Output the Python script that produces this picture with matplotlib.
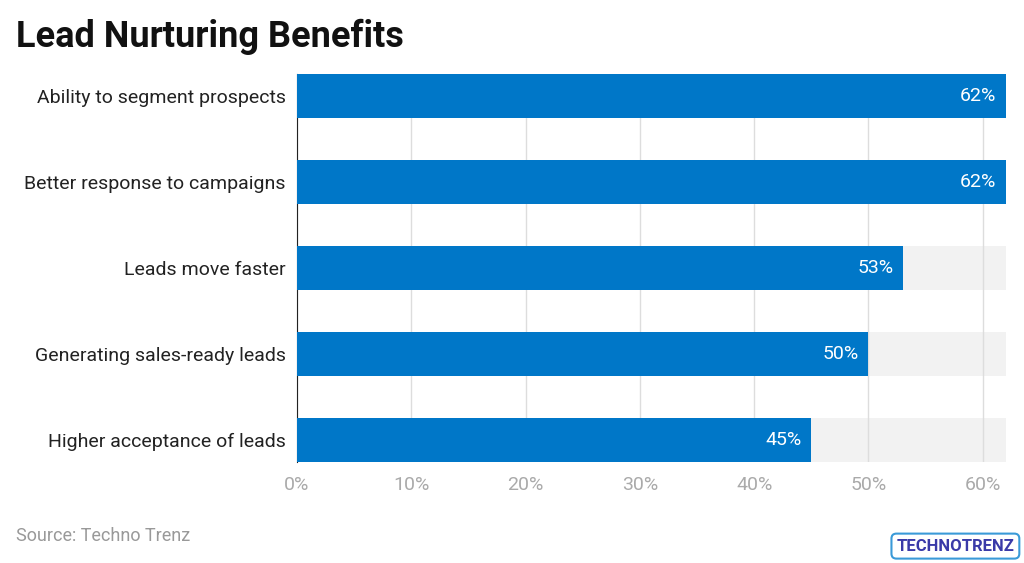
import matplotlib
matplotlib.use("Agg")
import matplotlib.pyplot as plt

categories = ["Ability to segment prospects", "Better response to campaigns",
              "Leads move faster", "Generating sales-ready leads", "Higher acceptance of leads"]
values = [62, 62, 53, 50, 45]
ticks = [0, 10, 20, 30, 40, 50, 60]

plt.rcParams['font.family'] = ['Roboto', 'DejaVu Sans']
fig = plt.figure(figsize=(10.24, 5.63), dpi=100)
ax = fig.add_axes([0.290, 0.179, 0.692, 0.690])
y = list(range(len(categories)))
ax.barh(y, [62]*len(y), height=0.52, color="#f2f2f2", zorder=1)
ax.barh(y, values, height=0.52, color="#0077c8", zorder=3)
for yi, v in zip(y, values):
    ax.text(v - 0.8, yi, f"{v}%", ha="right", va="center", color="white", fontsize=14, zorder=4)
ax.set_xlim(0, 62)
ax.set_ylim(4.26, -0.26)
ax.set_yticks(y)
ax.set_yticklabels(categories, fontsize=14, color="#222222")
ax.set_xticks(ticks)
ax.set_xticklabels([f"{t}%" for t in ticks], fontsize=14, color="#aaaaaa")
ax.grid(axis="x", color="#dddddd", linewidth=1, zorder=2)
for s in ["top", "right", "bottom"]:
    ax.spines[s].set_visible(False)
ax.spines["left"].set_color("#222222")
ax.tick_params(axis="y", length=0, pad=8)
ax.tick_params(axis="x", length=0, pad=10)
fig.text(0.016, 0.935, "Lead Nurturing Benefits", fontsize=26, fontweight="bold", color="#111111", va="center")
fig.text(0.016, 0.048, "Source: Techno Trenz", fontsize=13, color="#999999", va="center")
fig.text(0.933, 0.03, "TECHNOTRENZ", fontsize=12, fontweight="bold", color="#3a3aa8", ha="center", va="center",
         bbox=dict(boxstyle="round,pad=0.3", fc="white", ec="#3a9ad8", lw=1.5))
fig.savefig("out.png", dpi=100)
